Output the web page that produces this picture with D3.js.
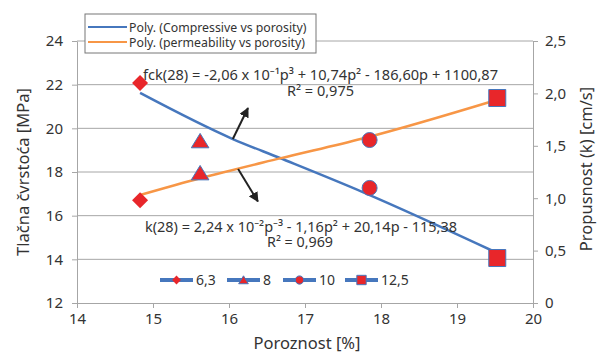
<!DOCTYPE html>
<html>
<head>
<meta charset="utf-8">
<script src="https://cdn.jsdelivr.net/npm/d3@7"></script>
<style>
  body { margin: 0; background: #fff; }
  text { font-family: "Noto Sans", sans-serif; fill: #333; }
</style>
</head>
<body>
<div class="chart"></div>
<script>
// measured points
const porosity = [14.83, 15.62, 17.85, 19.53];
const seriesNames = ["6,3", "8", "10", "12,5"];
const markerTypes = ["diamond", "triangle", "circle", "square"];
const compressive = [22.08, 19.42, 17.27, 14.06];
const permeability = [0.98, 1.24, 1.555, 1.956];

// trend lines
const compTrendX = [14.83, 16.05, 16.67, 17.76, 19.53];
const compTrendY = [21.62, 19.51, 18.64, 17.08, 14.29];
const permTrendX = [14.83, 15.62, 16.67, 17.76, 19.53];
const permTrendY = [1.03, 1.19, 1.38, 1.57, 1.94];

const xTicks = [14, 15, 16, 17, 18, 19, 20];
const leftTicks = [12, 14, 16, 18, 20, 22, 24];
const rightTicks = [0, 0.5, 1.0, 1.5, 2.0, 2.5];
const rightTickLabels = ["0", "0,5", "1,0", "1,5", "2,0", "2,5"];

const trendNames = ["Poly. (Compressive vs porosity)", "Poly. (permeability vs porosity)"];
const eqComp = "fck(28) = -2,06 x 10\u207B\u00B9p\u00B3 + 10,74p\u00B2 - 186,60p + 1100,87";
const eqPerm = "k(28) = 2,24 x 10\u207B\u00B2p\u207B\u00B3 - 1,16p\u00B2 + 20,14p - 115,38";

const W = 602, H = 355;
const M = { top: 41, right: 69, bottom: 52, left: 77 };
const blue = "#4677bd", orange = "#f79646", red = "#e8262a", grid = "#a6a6a6";

const svg = d3.select(".chart").append("svg").attr("width", W).attr("height", H);

const x = d3.scaleLinear().domain([14, 20]).range([M.left, W - M.right]);
const yL = d3.scaleLinear().domain([12, 24]).range([H - M.bottom, M.top]);
const yR = d3.scaleLinear().domain([0, 2.5]).range([H - M.bottom, M.top]);

// gridlines
svg.selectAll(".grid").data(leftTicks.slice(1)).enter().append("line")
  .attr("x1", x(14)).attr("x2", x(20))
  .attr("y1", d => yL(d)).attr("y2", d => yL(d))
  .attr("stroke", grid).attr("stroke-width", 1);

function styleAxis(g) {
  g.select(".domain").attr("stroke", grid);
  g.selectAll(".tick line").attr("stroke", grid);
  g.selectAll(".tick text").style("font-size", "15px").attr("fill", "#333")
    .style("font-family", "Noto Sans, sans-serif");
}

svg.append("g").attr("transform", `translate(0,${yL(12)})`)
  .call(d3.axisBottom(x).tickValues(xTicks).tickFormat(d3.format("d")).tickSize(5).tickSizeOuter(0).tickPadding(5))
  .call(styleAxis);
svg.append("g").attr("transform", `translate(${x(14)},0)`)
  .call(d3.axisLeft(yL).tickValues(leftTicks).tickSize(5).tickSizeOuter(0).tickPadding(9))
  .call(styleAxis);
svg.append("g").attr("transform", `translate(${x(20)},0)`)
  .call(d3.axisRight(yR).tickValues(rightTicks).tickFormat((d, i) => rightTickLabels[i])
    .tickSize(5).tickSizeOuter(0).tickPadding(7))
  .call(styleAxis);

// axis titles
svg.append("text").attr("x", 307).attr("y", 349).attr("text-anchor", "middle")
  .style("font-size", "16.5px").text("Poroznost [%]");
svg.append("text").attr("transform", `translate(29,${(yL(12) + yL(24)) / 2 + 0}) rotate(-90)`)
  .attr("text-anchor", "middle").style("font-size", "16.5px").text("Tlačna čvrstoća [MPa]");
svg.append("text").attr("transform", `translate(592,${(yL(12) + yL(24)) / 2 - 3}) rotate(-90)`)
  .attr("text-anchor", "middle").style("font-size", "16.5px").text("Propusnost  (k) [cm/s]");

// trend lines
const lineL = d3.line().x(d => x(d[0])).y(d => yL(d[1])).curve(d3.curveMonotoneX);
const lineR = d3.line().x(d => x(d[0])).y(d => yR(d[1])).curve(d3.curveMonotoneX);
svg.append("path").attr("d", lineL(d3.zip(compTrendX, compTrendY)))
  .attr("fill", "none").attr("stroke", blue).attr("stroke-width", 2.5);
svg.append("path").attr("d", lineR(d3.zip(permTrendX, permTrendY)))
  .attr("fill", "none").attr("stroke", orange).attr("stroke-width", 2.5);

// markers
function markerPath(type, s) {
  const h = s / 2;
  if (type === "diamond") return `M0,${-h}L${h},0L0,${h}L${-h},0Z`;
  if (type === "triangle") return `M0,${-h * 0.95}L${h * 1.1},${h * 0.85}L${-h * 1.1},${h * 0.85}Z`;
  if (type === "square") return `M${-h},${-h}H${h}V${h}H${-h}Z`;
  return d3.arc()({ innerRadius: 0, outerRadius: h, startAngle: 0, endAngle: 2 * Math.PI });
}
const sizeOf = { diamond: 16, triangle: 16, circle: 15, square: 17 };
function marker(g, type, cx, cy, scale) {
  g.append("path")
    .attr("d", markerPath(type, sizeOf[type] * scale))
    .attr("transform", `translate(${cx},${cy})`)
    .attr("fill", red).attr("stroke", type === "diamond" ? "none" : blue).attr("stroke-width", 1);
}
porosity.forEach((p, i) => {
  marker(svg, markerTypes[i], x(p), yL(compressive[i]), 1);
  marker(svg, markerTypes[i], x(p), yR(permeability[i]), 1);
});

// arrows
const arrowCoords = [
  [[16.05, 19.51], [16.25, 20.93]],
  [[16.12, 18.14], [16.38, 16.65]]
];
svg.append("defs").append("marker").attr("id", "ah").attr("viewBox", "0 0 10 10")
  .attr("refX", 9).attr("refY", 5).attr("markerWidth", 5).attr("markerHeight", 5)
  .attr("orient", "auto").append("path").attr("d", "M0,0L10,5L0,10z").attr("fill", "#222");
arrowCoords.forEach(a => {
  svg.append("line").attr("x1", x(a[0][0])).attr("y1", yL(a[0][1]))
    .attr("x2", x(a[1][0])).attr("y2", yL(a[1][1]))
    .attr("stroke", "#222").attr("stroke-width", 2).attr("marker-end", "url(#ah)");
});

// equations
svg.append("text").attr("x", 143).attr("y", 80).attr("textLength", 355).attr("lengthAdjust", "spacingAndGlyphs")
  .style("font-size", "14.5px").text(eqComp);
svg.append("text").attr("x", 287).attr("y", 96).attr("textLength", 67).attr("lengthAdjust", "spacingAndGlyphs")
  .style("font-size", "14.5px").text("R\u00B2 = 0,975");
svg.append("text").attr("x", 145).attr("y", 232).attr("textLength", 312).attr("lengthAdjust", "spacingAndGlyphs")
  .style("font-size", "14.5px").text(eqPerm);
svg.append("text").attr("x", 267).attr("y", 247).attr("textLength", 66).attr("lengthAdjust", "spacingAndGlyphs")
  .style("font-size", "14.5px").text("R\u00B2 = 0,969");

// top legend
const lg = svg.append("g");
lg.append("rect").attr("x", 85).attr("y", 14).attr("width", 231).attr("height", 39)
  .attr("fill", "#fff").attr("stroke", "#777").attr("stroke-width", 1);
trendNames.forEach((n, i) => {
  const yy = 27 + i * 15;
  lg.append("line").attr("x1", 88).attr("x2", 127).attr("y1", yy).attr("y2", yy)
    .attr("stroke", i === 0 ? blue : orange).attr("stroke-width", 2);
  lg.append("text").attr("x", 129).attr("y", yy + 4.5).style("font-size", "12.3px").text(n);
});

// bottom legend
const legX = [160, 227, 283, 345];
const bl = svg.append("g");
seriesNames.forEach((n, i) => {
  const yy = 280;
  bl.append("line").attr("x1", legX[i]).attr("x2", legX[i] + 33).attr("y1", yy).attr("y2", yy)
    .attr("stroke", blue).attr("stroke-width", 4);
  marker(bl, markerTypes[i], legX[i] + 16.5, yy, 0.55);
  bl.append("text").attr("x", legX[i] + 36).attr("y", yy + 5).style("font-size", "14px").text(n);
});
</script>
</body>
</html>
